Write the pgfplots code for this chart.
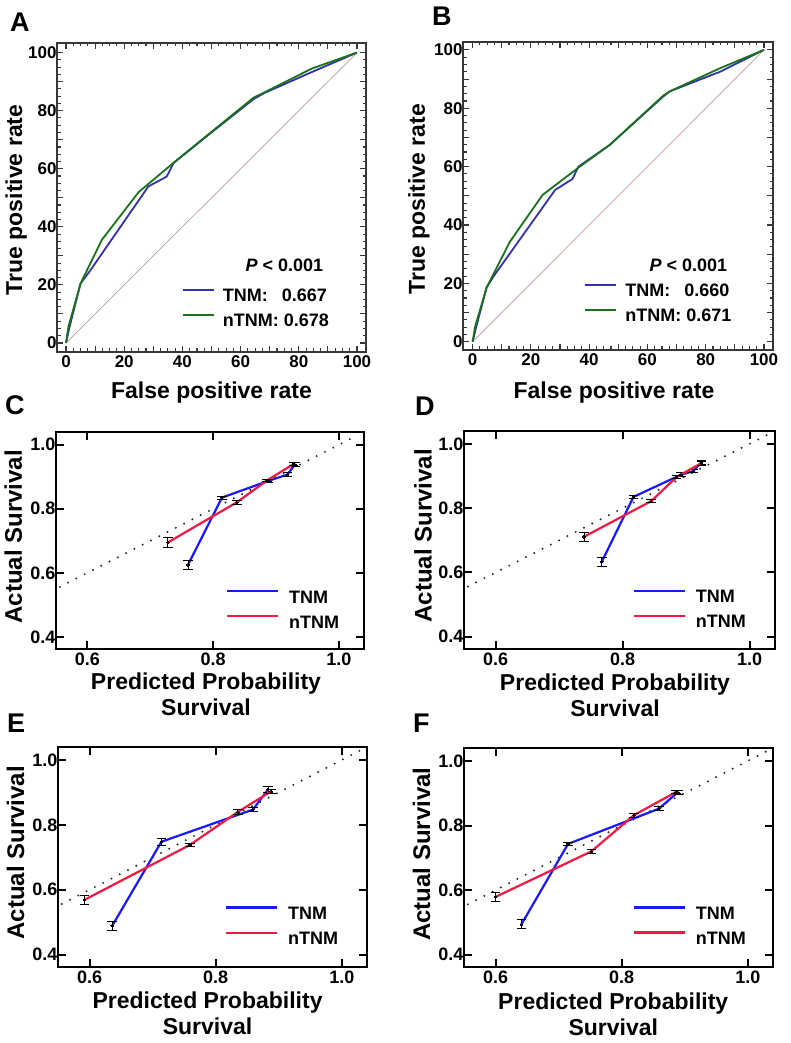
\documentclass[border=0pt]{standalone}
\usepackage{pgfplots}
\pgfplotsset{compat=1.18}
\usepackage{fontspec}
\setmainfont{Liberation Sans}

\definecolor{rocblue}{RGB}{50,50,175}
\definecolor{rocgreen}{RGB}{25,115,25}
\definecolor{diagc}{RGB}{205,150,150}
\definecolor{calblue}{RGB}{25,25,255}
\definecolor{calred}{RGB}{240,25,65}
\definecolor{framec}{RGB}{55,55,55}

\newcommand{\fs}[2]{\fontsize{#1}{#2}\selectfont\bfseries}

\pgfplotsset{
  rocaxis/.style={
    scale only axis,
    xmin=-3.1, xmax=103.1, ymin=-3.1, ymax=103.3,
    xtick={0,10,...,100}, ytick={0,10,...,100},
    xticklabels={0,,20,,40,,60,,80,,100},
    yticklabels={0,,20,,40,,60,,80,,100},
    minor tick num=3,
    tick align=inside,
    major tick length=6pt, minor tick length=3.5pt,
    axis line style={draw=framec, line width=2pt},
    tick style={draw=framec, line width=1.1pt},
    tick label style={font=\fs{17}{17}},
    yticklabel style={xshift=3pt},
    every axis x label/.style={at={(axis description cs:0.5,-0.149)}, anchor=base, inner sep=0pt, font=\fs{23}{23}},
    every axis y label/.style={at={(axis description cs:-0.113,0.492)}, rotate=90, anchor=base, inner sep=0pt, font=\fs{23}{23}},
    xlabel={False positive rate},
    ylabel={True positive rate},
    legend cell align=left,
    legend image code/.code={\draw[##1, line width=1.8pt] (0pt,6.5pt) -- (31pt,6.5pt); \path (0pt,0pt) (39pt,0pt);},
    legend style={draw=none, fill=none, inner sep=0pt, outer sep=0pt,
      font=\fs{18}{18}, row sep=9pt, column sep=0pt,
      nodes={inner sep=0pt, outer sep=0pt, text height=13pt, text depth=3pt}},
  },
  calaxis/.style={
    scale only axis,
    xmin=0.55, xmax=1.04, ymin=0.362, ymax=1.04,
    xtick={0.6,0.8,1.0}, xticklabels={0.6,0.8,1.0},
    ytick={0.4,0.6,0.8,1.0}, yticklabels={0.4,0.6,0.8,1.0},
    tick align=inside,
    major tick length=8pt,
    axis line style={draw=black, line width=2.6pt},
    tick style={draw=black, line width=2pt},
    tick label style={font=\fs{18}{18}},
    yticklabel style={xshift=3pt},
    xlabel={Predicted Probability\\Survival},
    ylabel={Actual Survival},
    legend cell align=left,
    legend image code/.code={\draw[##1, line width=2.2pt] (0pt,7pt) -- (51pt,7pt); \path (0pt,0pt) (61pt,0pt);},
    legend style={draw=none, fill=none, inner sep=0pt, outer sep=0pt,
      font=\fs{18}{18}, row sep=9pt, column sep=0pt,
      nodes={inner sep=0pt, outer sep=0pt, text height=13pt, text depth=3pt}},
  },
  diagline/.style={black!85, line width=2.2pt, dash pattern=on 0pt off 9.3pt, line cap=round, forget plot},
  calline/.style={line width=2.2pt, mark=*, mark size=1.3pt,
    mark options={black, fill=black, line width=0pt},
    error bars/.cd, y dir=both, y explicit,
    error bar style={black, line width=0.9pt},
    error mark options={black, line width=0.9pt, mark size=4.8pt, rotate=90}},
}

\begin{document}
\begin{tikzpicture}
\path[use as bounding box] (0pt,0pt) rectangle (790pt,1043pt);

% ---------------- A ----------------
\begin{axis}[rocaxis, at={(57pt,691pt)}, anchor=south west, width=309pt, height=309pt,
  legend style={at={(rel axis cs:0.4045,0.206)}, anchor=north west}]
\addplot[diagc, line width=0.7pt, forget plot] coordinates {(0,0) (100,100)};
\addplot[rocblue, line width=1.8pt] coordinates {
 (0,0) (1.2,5.5) (5,20.5) (8,24.5) (28.3,53.9) (34.6,57.3) (37,62) (50,72.5)
 (64.5,84) (68,86) (84.5,93.3) (100,100)};
\addlegendentry{TNM:\hspace{0.78em}0.667}
\addplot[rocgreen, line width=1.8pt] coordinates {
 (0,0) (0.8,5.5) (5,20.5) (12.3,35.5) (25,52) (37.5,62.5) (50,72.7)
 (64.5,84.5) (68,86.2) (84.5,94.5) (100,100)};
\addlegendentry{nTNM: 0.678}
\node[anchor=base east, font=\fs{18}{18}, inner sep=0pt] at (rel axis cs:0.862,0.259) {\textit{P} < 0.001};
\end{axis}

% ---------------- B ----------------
\begin{axis}[rocaxis, at={(463pt,693pt)}, anchor=south west, width=310pt, height=308pt,
  xmin=-3.3, xmax=103.1, ymin=-2.8, ymax=102.7,
  every axis x label/.style={at={(axis description cs:0.487,-0.156)}, anchor=base, inner sep=0pt, font=\fs{23}{23}},
  every axis y label/.style={at={(axis description cs:-0.1226,0.49)}, rotate=90, anchor=base, inner sep=0pt, font=\fs{23}{23}},
  legend style={at={(rel axis cs:0.392,0.216)}, anchor=north west}]
\addplot[diagc, line width=0.7pt, forget plot] coordinates {(0,0) (100,100)};
\addplot[rocblue, line width=1.8pt] coordinates {
 (0,0) (1.2,5) (4.8,18.6) (7.1,22.3) (28.3,52) (34.3,55.8) (36.3,60) (47,67.4)
 (65.4,84) (67.7,85.8) (84.9,92.5) (100,100)};
\addlegendentry{TNM:\hspace{0.78em}0.660}
\addplot[rocgreen, line width=1.8pt] coordinates {
 (0,0) (0.8,5) (4.8,18.6) (12.8,34.3) (24,50.3) (36.5,59.8) (47,67.4)
 (65.4,84.3) (67.7,85.8) (84.9,93.7) (100,100)};
\addlegendentry{nTNM: 0.671}
\node[anchor=base east, font=\fs{18}{18}, inner sep=0pt] at (rel axis cs:0.8526,0.254) {\textit{P} < 0.001};
\end{axis}

% ---------------- C ----------------
\begin{axis}[calaxis, at={(56pt,394pt)}, anchor=south west, width=308pt, height=217pt,
  every axis x label/.style={at={(axis description cs:0.487,-0.1106)}, anchor=north, align=center, inner sep=0pt, font=\fs{23}{26}},
  every axis y label/.style={at={(axis description cs:-0.111,0.5175)}, rotate=90, anchor=base, inner sep=0pt, font=\fs{24}{24}},
  legend style={at={(rel axis cs:0.552,0.272)}, anchor=north west}]
\addplot[diagline] coordinates {(0.556,0.556) (1.03,1.03)};
\addplot[calblue, calline] coordinates {
 (0.760,0.625) +- (0,0.015) (0.814,0.835) +- (0,0.005) (0.8875,0.887) +- (0,0.004)
 (0.918,0.907) +- (0,0.006) (0.930,0.938) +- (0,0.006)};
\addlegendentry{TNM}
\addplot[calred, calline] coordinates {
 (0.728,0.695) +- (0,0.015) (0.8375,0.820) +- (0,0.006) (0.886,0.889) +- (0,0.004)
 (0.928,0.940) +- (0,0.006)};
\addlegendentry{nTNM}
\end{axis}

% ---------------- D ----------------
\begin{axis}[calaxis, at={(464pt,394pt)}, anchor=south west, width=311pt, height=218pt,
  every axis x label/.style={at={(axis description cs:0.4855,-0.111)}, anchor=north, align=center, inner sep=0pt, font=\fs{23}{26}},
  every axis y label/.style={at={(axis description cs:-0.104,0.519)}, rotate=90, anchor=base, inner sep=0pt, font=\fs{24}{24}},
  legend style={at={(rel axis cs:0.5424,0.272)}, anchor=north west}]
\addplot[diagline] coordinates {(0.556,0.556) (1.03,1.03)};
\addplot[calblue, calline] coordinates {
 (0.767,0.633) +- (0,0.015) (0.817,0.835) +- (0,0.006) (0.892,0.904) +- (0,0.006)
 (0.911,0.915) +- (0,0.005) (0.924,0.943) +- (0,0.006)};
\addlegendentry{TNM}
\addplot[calred, calline] coordinates {
 (0.739,0.711) +- (0,0.015) (0.845,0.822) +- (0,0.005) (0.885,0.897) +- (0,0.004)
 (0.924,0.940) +- (0,0.006)};
\addlegendentry{nTNM}
\end{axis}

% ---------------- E ----------------
\begin{axis}[calaxis, at={(58pt,76pt)}, anchor=south west, width=309pt, height=220pt,
  every axis x label/.style={at={(axis description cs:0.484,-0.1136)}, anchor=north, align=center, inner sep=0pt, font=\fs{23}{26}},
  every axis y label/.style={at={(axis description cs:-0.110,0.519)}, rotate=90, anchor=base, inner sep=0pt, font=\fs{24}{24}},
  legend style={at={(rel axis cs:0.540,0.275)}, anchor=north west}]
\addplot[diagline] coordinates {(0.556,0.556) (1.03,1.03)};
\addplot[calblue, calline] coordinates {
 (0.636,0.489) +- (0,0.014) (0.714,0.748) +- (0,0.010) (0.859,0.847) +- (0,0.006)
 (0.883,0.909) +- (0,0.008)};
\addlegendentry{TNM}
\addplot[calred, calline] coordinates {
 (0.592,0.569) +- (0,0.015) (0.759,0.738) +- (0,0.005) (0.835,0.8395) +- (0,0.007)
 (0.888,0.9036) +- (0,0.006)};
\addlegendentry{nTNM}
\end{axis}

% ---------------- F ----------------
\begin{axis}[calaxis, at={(464pt,76pt)}, anchor=south west, width=309pt, height=219pt,
  every axis x label/.style={at={(axis description cs:0.483,-0.119)}, anchor=north, align=center, inner sep=0pt, font=\fs{23}{26}},
  every axis y label/.style={at={(axis description cs:-0.110,0.515)}, rotate=90, anchor=base, inner sep=0pt, font=\fs{24}{24}},
  legend style={at={(rel axis cs:0.546,0.277)}, anchor=north west}]
\addplot[diagline] coordinates {(0.556,0.556) (1.03,1.03)};
\addplot[calblue, calline] coordinates {
 (0.641,0.494) +- (0,0.014) (0.715,0.743) +- (0,0.005) (0.859,0.852) +- (0,0.006)
 (0.889,0.903) +- (0,0.006)};
\addlegendentry{TNM}
\addplot[calred, calline] coordinates {
 (0.600,0.579) +- (0,0.014) (0.752,0.720) +- (0,0.005) (0.8195,0.832) +- (0,0.006)
 (0.886,0.9035) +- (0,0.005)};
\addlegendentry{nTNM}
\end{axis}

% panel letters
\node[anchor=base west, inner sep=0pt, font=\fs{27}{27}] at (10pt,1011pt) {A};
\node[anchor=base west, inner sep=0pt, font=\fs{27}{27}] at (432pt,1017pt) {B};
\node[anchor=base west, inner sep=0pt, font=\fs{27}{27}] at (5pt,628pt) {C};
\node[anchor=base west, inner sep=0pt, font=\fs{27}{27}] at (415pt,627pt) {D};
\node[anchor=base west, inner sep=0pt, font=\fs{27}{27}] at (7pt,310pt) {E};
\node[anchor=base west, inner sep=0pt, font=\fs{27}{27}] at (413pt,310pt) {F};
\end{tikzpicture}
\end{document}
